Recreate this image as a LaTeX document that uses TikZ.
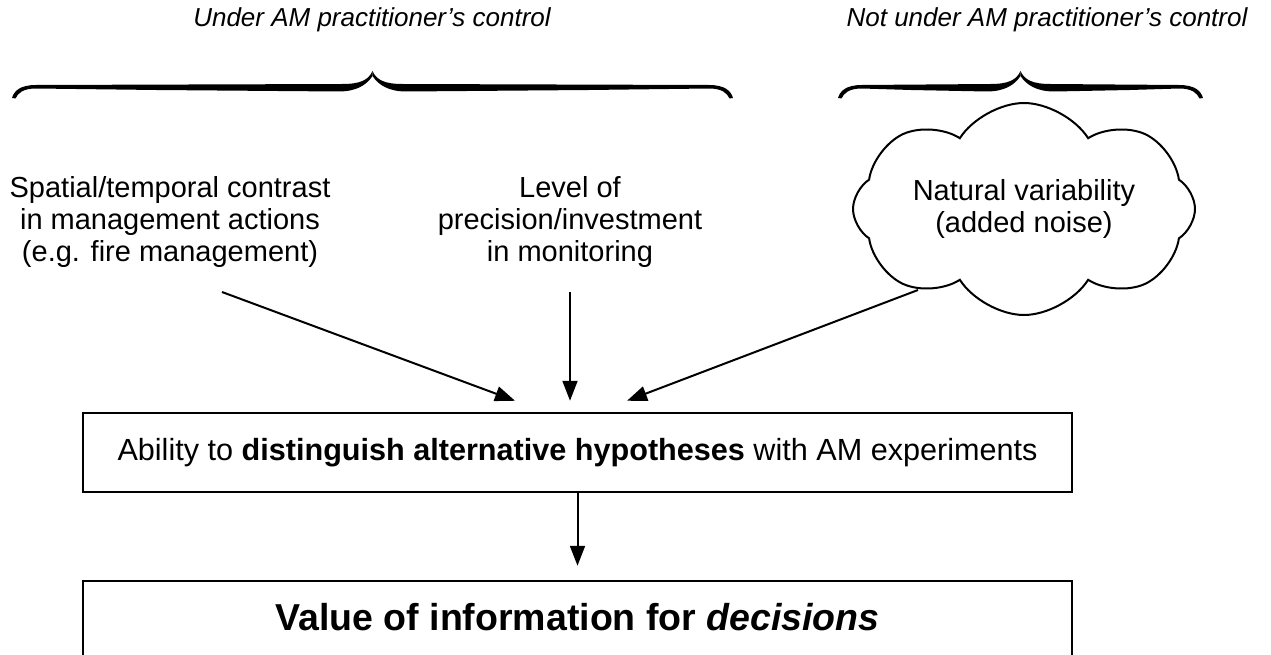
\documentclass[tikz,border=0pt]{standalone}
\usepackage{fontspec}
\setmainfont{Liberation Sans}
\usetikzlibrary{arrows.meta,shapes.symbols}

% one half of a tapered curly brace; #1 is the half width, tip at the origin
\newcommand\bracehalf[1]{%
  \fill (0,0) .. controls (-4,9) and (-12,13) .. (-30,13)
    -- (-#1+24,14)
    .. controls (-#1+8,14) and (-#1+2,20) .. (-#1,27)
    -- (-#1+3.5,27.5)
    .. controls (-#1+6,22) and (-#1+11,17.5) .. (-#1+24,17.5)
    -- (-#1*0.6,19) -- (-34,20.5)
    .. controls (-16,20.5) and (-6,14) .. (0,5) -- cycle;}

\tikzset{
  header/.style={font=\fontsize{26}{30}\selectfont\itshape, inner sep=0pt},
  factor/.style={font=\fontsize{29}{32}\selectfont, align=center, inner sep=0pt},
  flow/.style={draw, line width=2.5pt, rectangle, inner sep=0pt},
  arr/.style={line width=2pt, -{Triangle[length=20pt, width=15pt]}},
  noise/.style={draw, line width=2pt, cloud, cloud puffs=8, cloud puff arc=115,
    minimum width=342pt, minimum height=212pt, inner sep=0pt, aspect=1.6},
  pics/tbrace/.style={code={
    \bracehalf{#1}
    \begin{scope}[xscale=-1]\bracehalf{#1}\end{scope}
  }}
}

\begin{document}
\begin{tikzpicture}[x=1pt, y=-1pt]
  \useasboundingbox (0,0) rectangle (1271,655);

  % group headings and their braces
  \node[header] (hctl) at (372,20) {Under AM practitioner's control};
  \node[header] (hnot) at (1047,20) {Not under AM practitioner's control};
  \pic at (372.5,71) {tbrace=360.5};
  \pic at (1020.5,71) {tbrace=182.5};

  % influencing factors
  \node[factor] (sp) at (170,222) {Spatial/temporal contrast\\in management actions\\(e.g. fire management)};
  \node[factor] (lv) at (570,222) {Level of\\precision/investment\\in monitoring};
  \node[noise] (nv) at (1024,209) {};
  \node[factor] (nvt) at (nv.center) {Natural variability\\(added noise)};

  % outcome boxes
  \node[flow, minimum width=989pt, minimum height=79pt,
        font=\fontsize{30.6}{33}\selectfont] (ab) at (577.5,452.5)
        {Ability to \textbf{distinguish alternative hypotheses} with AM experiments};
  \node[flow, minimum width=989pt, minimum height=150pt] (vo) at (577.5,656) {};
  \node[font=\fontsize{37.5}{40}\selectfont\bfseries, inner sep=0pt] (vot) at (577.5,617)
        {Value of information for \textit{decisions}};

  % influence arrows
  \draw[arr] ([xshift=52pt,yshift=-70pt]sp.center) -- ([xshift=-62.5pt,yshift=11pt]ab.north);
  \draw[arr] ([xshift=0pt,yshift=-70pt]lv.center) -- ([xshift=-7.5pt,yshift=11pt]ab.north);
  \draw[arr] ([xshift=-106pt,yshift=-81pt]nv.center) -- ([xshift=49.5pt,yshift=11pt]ab.north);
  \draw[arr, shorten >=14pt] (ab.south) -- (vo.north);
\end{tikzpicture}
\end{document}
